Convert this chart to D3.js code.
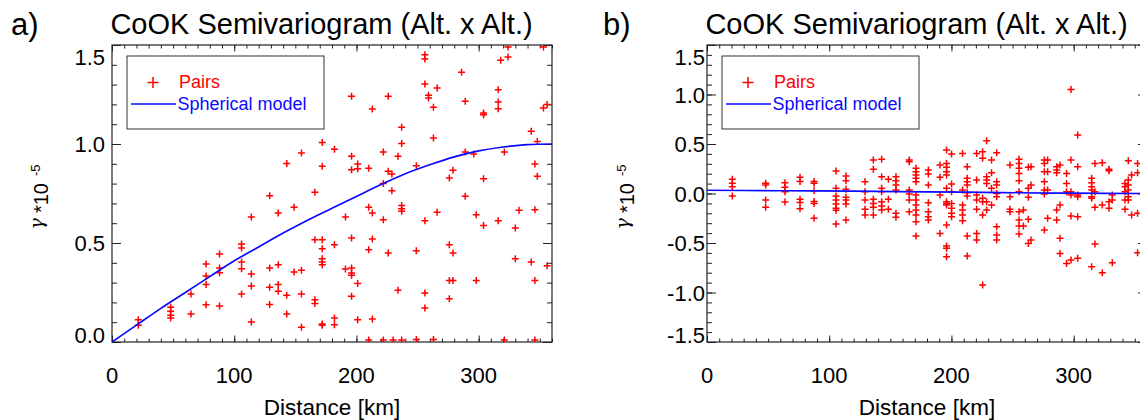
<!DOCTYPE html>
<html>
<head>
<meta charset="utf-8">
<script src="https://cdn.jsdelivr.net/npm/d3@7"></script>
<style>
body { margin: 0; background: #fff; }
svg { display: block; }
</style>
</head>
<body>
<div id="chart"></div>
<script>
// values: distance [km], gamma * 1e-5

// panel a) pairs
var distA = [21.5, 21.5, 48, 48, 48, 48, 64.6, 64.6, 77, 77, 77, 77, 88, 88, 88, 88,
  106, 106, 106, 106, 106, 114, 114, 114, 114,
  196, 226, 213, 237, 237, 172, 182, 155, 143, 172, 196, 196, 201, 201, 210, 222, 234, 226, 229, 222, 229,
  237, 237, 237, 129, 166, 149, 136, 191, 210, 213, 222, 166, 172, 172, 182, 196, 213, 210, 226,
  129, 136, 149, 155, 172, 172, 172, 191, 196, 196, 196, 201, 129, 136, 136, 143, 155, 166, 166, 196, 234,
  129, 143, 155, 172, 172, 182, 182, 201, 213, 210, 222, 237,
  256, 256, 256, 266, 259, 259, 263, 286, 289, 318, 324, 324, 353, 316, 316, 316, 304, 304, 353, 356,
  263, 343, 348, 289, 296, 321, 249, 279, 276, 304, 346, 348, 289, 266, 256, 298, 304, 316, 333, 330, 346,
  249, 276, 279, 330, 343, 356, 276, 279, 298, 346, 256, 256, 276, 249, 263, 321, 346, 230];
var gammaA = [0.113, 0.084, 0.175, 0.155, 0.135, 0.121, 0.242, 0.141, 0.394, 0.333, 0.29, 0.188, 0.444, 0.374, 0.35, 0.182,
  0.495, 0.475, 0.404, 0.37, 0.242, 0.631, 0.343, 0.283, 0.101,
  1.241, 1.241, 1.177, 1.084, 1.003, 1.008, 0.973, 0.955, 0.901, 0.887, 0.938, 0.87, 0.899, 0.875, 0.877, 0.96, 0.938, 0.862, 0.848, 0.8, 0.764,
  0.69, 0.673, 0.66, 0.739, 0.756, 0.68, 0.652, 0.631, 0.68, 0.652, 0.618, 0.517, 0.517, 0.471, 0.491, 0.525, 0.52, 0.466, 0.449,
  0.374, 0.39, 0.354, 0.362, 0.421, 0.404, 0.39, 0.369, 0.374, 0.348, 0.337, 0.295, 0.276, 0.29, 0.256, 0.236, 0.242, 0.214, 0.194, 0.231, 0.261,
  0.189, 0.141, 0.074, 0.091, 0.084, 0.121, 0.087, 0.113, 0.116, 0.01, 0.01, 0.01,
  1.451, 1.429, 1.303, 1.283, 1.246, 1.232, 1.185, 1.362, 1.216, 1.423, 1.439, 1.49, 1.49, 1.274, 1.212, 1.178, 1.157, 1.148, 1.182, 1.199,
  1.03, 1.064, 1.013, 0.96, 0.949, 0.96, 0.89, 0.867, 0.828, 0.825, 0.899, 0.837, 0.736, 0.655, 0.613, 0.643, 0.589, 0.613, 0.665, 0.576, 0.668,
  0.461, 0.491, 0.449, 0.421, 0.404, 0.385, 0.311, 0.311, 0.311, 0.311, 0.247, 0.172, 0.219, 0.012, 0.012, 0.01, 0.01, 0.01];

// panel a) spherical model line
var modelDistA = [0, 20, 40, 60, 80, 100, 120, 140, 160, 180, 200, 220, 240, 260, 280, 300, 320, 340, 360];
var modelGammaA = [0, 0.085, 0.17, 0.25, 0.33, 0.41, 0.48, 0.55, 0.615, 0.675, 0.735, 0.795, 0.85, 0.895, 0.935, 0.965, 0.985, 0.997, 1.0];

// panel b) pairs, grouped by lag distance
var lagsB = [20.7, 48, 63.8, 76.1, 87.6, 105.6, 113.7, 129.3, 136.1, 142.9, 148.4, 154.6, 165.5, 171,
  181.1, 190.6, 196, 200.1, 209.1, 212.9, 220.6, 225.5, 228.8, 232.8, 237, 247.9, 255.3, 258.9,
  262.9, 265.1, 276, 278.7, 286.1, 288.8, 294.2, 297.8, 303.3, 314.7, 317.4, 323.4, 328.9, 331.6,
  342, 344.7, 347.4, 352.3];
var gammaB = [
  [0.143, 0.103, 0.069, -0.025],
  [0.103, 0.086, -0.066, -0.14],
  [0.109, 0.062, 0.018, -0.086],
  [0.163, 0.12, -0.059, -0.092, -0.153],
  [0.12, 0.103, 0.029, -0.082, -0.1, -0.25],
  [0.227, 0.052, -0.025, -0.066, -0.106, -0.15, -0.17, -0.308],
  [0.177, 0.13, 0.042, -0.039, -0.066, -0.106, -0.268],
  [0.119, 0.018, -0.066, -0.16, -0.218],
  [0.338, 0.244, -0.059, -0.1, -0.14, -0.218],
  [0.345, 0.17, 0.052, 0.018, -0.083, -0.127, -0.167],
  [0.143, -0.059, -0.16],
  [0.17, 0.129, 0.085, 0.035, -0.2, -0.241],
  [0.338, 0.321, 0.035, -0.005, -0.066, -0.184],
  [0.254, 0.22, 0.186, 0.153, 0.119, -0.016, -0.066, -0.117, -0.167, -0.218, -0.285, -0.43],
  [0.237, 0.197, 0.085, -0.093, -0.184, -0.234, -0.268],
  [0.287, 0.163, -0.016, -0.403],
  [0.439, 0.304, 0.264, 0.22, 0.186, 0.052, -0.083, -0.1, -0.117, -0.319, -0.531, -0.554, -0.638],
  [0.399, 0.095, 0.018, -0.1, -0.15, -0.2, -0.234],
  [0.405, 0.035, -0.117, -0.167, -0.218, -0.275],
  [0.271, 0.153, 0.119, 0.085, 0.008, -0.026, -0.43, -0.632],
  [0.405, 0.136, -0.016, -0.066, -0.16, -0.403, -0.47],
  [0.422, 0.355, -0.049, -0.083, -0.218, -0.925],
  [0.533, 0.17, 0.136, 0.102, -0.083, -0.167],
  [0.338, 0.21, 0.052, -0.117],
  [0.412, 0.119, 0.085, 0.001, -0.032, -0.335, -0.42, -0.47],
  [0.287, -0.032, -0.16, -0.184],
  [0.345, 0.304, 0.254, 0.203, 0.129, 0.018, -0.184, -0.268, -0.329, -0.41],
  [-0.167, -0.329],
  [0.264, 0.052, -0.039, -0.261, -0.504],
  [0.271, 0.085, -0.47],
  [0.338, 0.304, 0.22, 0.119, 0.035, -0.005, -0.369],
  [0.338, 0.22, 0.035, -0.251],
  [0.271, 0.237, 0.21, -0.167, -0.268],
  [0.287, -0.117, -0.453, -0.605],
  [0.203, 0.102, 0.018, -0.706],
  [1.05, 0.338, 0.018, -0.016, -0.227, -0.672],
  [0.59, 0.271, -0.016, -0.032, -0.234, -0.655],
  [0.153, 0.109, 0.069, 0.035, -0.032, -0.049, -0.74],
  [0.304, 0.018, -0.14, -0.51],
  [0.311, -0.117, -0.8],
  [0.244, 0.23, -0.083, -0.15],
  [-0.016, -0.066, -0.699],
  [0.102, 0.069, 0.018, -0.066, -0.16],
  [0.331, 0.136, 0.085, 0.035, -0.032, -0.066],
  [0.186, -0.218],
  [0.304, 0.21, -0.2, -0.598]
];

// panel b) spherical model line
var modelDistB = [0, 60, 120, 180, 240, 300, 360];
var modelGammaB = [0.033, 0.028, 0.023, 0.017, 0.009, 0.003, 0.0];

var xTicks = [0, 100, 200, 300];
var yTicksA = [0, 0.5, 1.0, 1.5];
var yTicksB = [-1.5, -1.0, -0.5, 0, 0.5, 1.0, 1.5];
var titleText = "CoOK Semivariogram (Alt. x Alt.)";

var FONT = "'Liberation Sans', Arial, Helvetica, sans-serif";
var width = 1140, height = 420;
var plotTop = 45, plotBottom = 342, plotW = 440;

var svg = d3.select("#chart")
  .append("svg")
  .attr("width", width)
  .attr("height", height);

svg.append("rect").attr("width", width).attr("height", height).attr("fill", "#fff");

function drawPanel(p) {
  var x = d3.scaleLinear().domain([0, 360]).range([p.left, p.left + plotW]);
  var y = d3.scaleLinear().domain(p.yDomain).range([plotBottom, plotTop]);
  var g = svg.append("g");

  g.append("clipPath").attr("id", "clip-" + p.id)
    .append("rect")
    .attr("x", x(0)).attr("y", plotTop)
    .attr("width", plotW).attr("height", plotBottom - plotTop);

  // ticks, all pointing inward
  var minorX = d3.range(0, 37).map(function(k) { return k * 10; });
  var minorY = d3.range(Math.round(p.yDomain[0] * 10), Math.round(p.yDomain[1] * 10) + 1).map(function(k) { return k / 10; });

  function tickAxis(axis, vals, len, tx, ty) {
    var a = g.append("g")
      .attr("transform", "translate(" + tx + "," + ty + ")")
      .call(axis.tickValues(vals).tickSizeInner(-len).tickSizeOuter(0).tickFormat(""));
    a.select(".domain").remove();
    a.selectAll("line").attr("stroke", "#222").attr("stroke-width", 1);
  }
  tickAxis(d3.axisBottom(x), minorX, 3.5, 0, plotBottom);
  tickAxis(d3.axisBottom(x), xTicks, 6.5, 0, plotBottom);
  tickAxis(d3.axisTop(x), minorX, 3.5, 0, plotTop);
  tickAxis(d3.axisTop(x), xTicks, 6.5, 0, plotTop);
  tickAxis(d3.axisLeft(y), minorY, 5, x(0), 0);
  tickAxis(d3.axisLeft(y), p.yTicks, 9, x(0), 0);
  tickAxis(d3.axisRight(y), minorY, 5, x(360), 0);
  tickAxis(d3.axisRight(y), p.yTicks, 9, x(360), 0);

  // frame
  g.append("rect")
    .attr("x", x(0)).attr("y", plotTop)
    .attr("width", plotW).attr("height", plotBottom - plotTop)
    .attr("fill", "none").attr("stroke", "#222").attr("stroke-width", 1.2);

  // tick labels
  g.selectAll(".xlab").data(xTicks).enter().append("text")
    .attr("x", function(d) { return x(d); })
    .attr("y", 383)
    .attr("text-anchor", "middle")
    .style("font-family", FONT).style("font-size", "22px")
    .text(function(d) { return d; });

  g.selectAll(".ylab").data(p.yTicks).enter().append("text")
    .attr("x", p.labelRight)
    .attr("y", function(d) {
      var off = 8;
      if (d == p.yDomain[1]) off += 12;
      if (d == p.yDomain[0]) off -= 7;
      return y(d) + off;
    })
    .attr("text-anchor", "end")
    .style("font-family", FONT).style("font-size", "22px")
    .text(function(d) { return d3.format(".1f")(d).replace("\u2212", "-"); });

  // pairs
  var pts = g.append("g").attr("clip-path", "url(#clip-" + p.id + ")");
  pts.selectAll("path").data(p.pairs).enter().append("path")
    .attr("d", "M-3.5,0H3.5M0,-3.5V3.5")
    .attr("transform", function(d) { return "translate(" + x(d[0]) + "," + y(d[1]) + ")"; })
    .attr("stroke", "#ff0000").attr("stroke-width", 1.5).attr("fill", "none");

  // model
  var line = d3.line()
    .x(function(d) { return x(d[0]); })
    .y(function(d) { return y(d[1]); })
    .curve(d3.curveMonotoneX);
  pts.append("path")
    .datum(p.model)
    .attr("d", line)
    .attr("fill", "none").attr("stroke", "#0a0aff").attr("stroke-width", 1.7);

  // legend
  var lx = x(0);
  g.append("rect")
    .attr("x", lx + 15).attr("y", 56).attr("width", 197).attr("height", 73)
    .attr("fill", "#fff").attr("stroke", "#333").attr("stroke-width", 1);
  g.append("path")
    .attr("d", "M-5.5,0H5.5M0,-5.5V5.5")
    .attr("transform", "translate(" + (lx + 41) + ",82.5)")
    .attr("stroke", "#ff0000").attr("stroke-width", 1.5);
  g.append("text")
    .attr("x", lx + 67).attr("y", 88)
    .style("font-family", FONT).style("font-size", "18px").style("fill", "#ff0000")
    .text("Pairs");
  g.append("line")
    .attr("x1", lx + 19).attr("x2", lx + 64).attr("y1", 104).attr("y2", 104)
    .attr("stroke", "#0a0aff").attr("stroke-width", 1.6);
  g.append("text")
    .attr("x", lx + 65.5).attr("y", 109.5)
    .style("font-family", FONT).style("font-size", "18px").style("fill", "#0a0aff")
    .text("Spherical model");

  // titles
  g.append("text")
    .attr("x", lx + 209.5).attr("y", 34)
    .attr("text-anchor", "middle")
    .style("font-family", FONT).style("font-size", "29px")
    .text(titleText);
  g.append("text")
    .attr("x", p.tagX).attr("y", 35)
    .style("font-family", FONT).style("font-size", "31px")
    .text(p.tag);
  g.append("text")
    .attr("x", x(180)).attr("y", 415)
    .attr("text-anchor", "middle")
    .style("font-family", FONT).style("font-size", "22.5px")
    .text("Distance [km]");

  var yl = g.append("text")
    .attr("transform", "translate(" + p.yLabelX + ",197) rotate(-90)")
    .attr("text-anchor", "middle")
    .style("font-family", FONT).style("font-size", "20px");
  yl.append("tspan").attr("dy", -5).style("font-family", "'DejaVu Serif', serif")
    .style("font-style", "italic").style("font-size", "19px").text("\u03b3");
  yl.append("tspan").attr("dy", 5).attr("dx", 5).text("*10");
  yl.append("tspan").attr("dy", -8).attr("dx", 7).style("font-size", "13px").text("-5");
}

var pairsA = distA.map(function(d, i) { return [d, gammaA[i]]; });
var pairsB = [];
lagsB.forEach(function(d, i) {
  gammaB[i].forEach(function(v) { pairsB.push([d, v]); });
});

drawPanel({
  id: "a", tag: "a)", tagX: 11, left: 112, labelRight: 105, yLabelX: 48,
  yDomain: [0, 1.5], yTicks: yTicksA, pairs: pairsA,
  model: modelDistA.map(function(d, i) { return [d, modelGammaA[i]]; })
});

drawPanel({
  id: "b", tag: "b)", tagX: 603, left: 707, labelRight: 705, yLabelX: 634,
  yDomain: [-1.5, 1.5], yTicks: yTicksB, pairs: pairsB,
  model: modelDistB.map(function(d, i) { return [d, modelGammaB[i]]; })
});
</script>
</body>
</html>
